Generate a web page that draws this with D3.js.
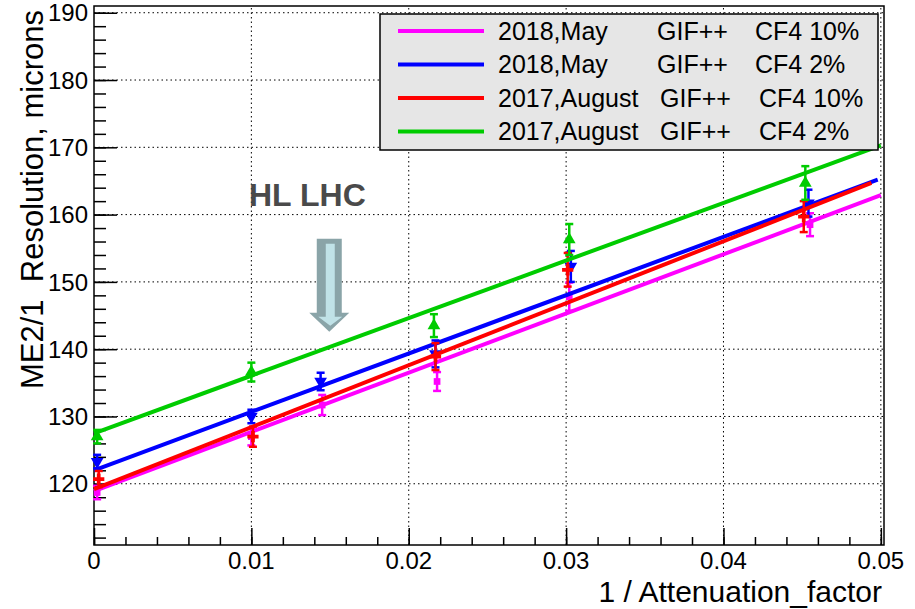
<!DOCTYPE html>
<html>

<head>
  <meta charset="UTF-8">
  <title>ME2/1 Resolution</title>
  <script src="https://d3js.org/d3.v7.min.js"></script>
  <style>
    body {
      margin: 0;
      background: #fff;
    }

    svg text {
      font-family: "Liberation Sans", Arial, sans-serif;
      fill: #000;
    }
  </style>
</head>

<body>
  <svg></svg>

  <script>
    // series
    let seriesNames = ["2018,May", "2018,May", "2017,August", "2017,August"];
    let seriesFacility = ["GIF++", "GIF++", "GIF++", "GIF++"];
    let seriesGas = ["CF4 10%", "CF4 2%", "CF4 10%", "CF4 2%"];
    let seriesColors = ["#ff00ff", "#0000ff", "#ff0000", "#00cc00"];
    let seriesMarkers = ["square", "triangleDown", "cross", "triangleUp"];

    let magentaX = [0.0002, 0.0100, 0.0145, 0.0218, 0.0302, 0.0455];
    let magentaY = [118.7, 127.0, 131.7, 135.2, 147.8, 158.5];
    let magentaErr = [1.0, 1.3, 1.5, 1.4, 2.1, 1.7];

    let blueX = [0.0002, 0.0100, 0.0144, 0.0217, 0.0303, 0.0454];
    let blueY = [123.3, 130.0, 135.2, 139.3, 152.3, 161.7];
    let blueErr = [1.0, 1.0, 1.3, 2.0, 2.3, 2.0];

    let redX = [0.0003, 0.0101, 0.0217, 0.0301, 0.0451];
    let redY = [120.7, 127.0, 138.9, 151.8, 159.7];
    let redErr = [1.2, 1.5, 2.0, 2.5, 2.3];

    let greenX = [0.0002, 0.0100, 0.0216, 0.0302, 0.0452];
    let greenY = [127.0, 136.6, 143.5, 156.3, 164.7];
    let greenErr = [1.0, 1.4, 1.7, 2.3, 2.5];

    // linear fit lines: start / end x and value there
    let fitX0 = [0, 0, 0, 0];
    let fitX1 = [0.0500, 0.0498, 0.0494, 0.0500];
    let fitY0 = [118.9, 122.0, 119.2, 127.5];
    let fitY1 = [162.9, 165.2, 164.7, 170.3];

    let xTicks = [0, 0.01, 0.02, 0.03, 0.04, 0.05];
    let xTickLabels = ["0", "0.01", "0.02", "0.03", "0.04", "0.05"];
    let yTicks = [120, 130, 140, 150, 160, 170, 180, 190];

    let width = 915,
      height = 609;
    let margin = { left: 94, right: 31, top: 6, bottom: 64 };

    let svg = d3.select("svg")
      .attr("width", width)
      .attr("height", height);

    let x = d3.scaleLinear()
      .domain([0, 0.0502])
      .range([margin.left, width - margin.right]);

    let y = d3.scaleLinear()
      .domain([110.9, 191.0])
      .range([height - margin.bottom, margin.top]);

    // grid
    let grid = svg.append("g").attr("id", "grid");
    grid.selectAll("line.gx")
      .data(xTicks.filter(d => d > 0))
      .enter()
      .append("line")
      .attr("x1", d => x(d)).attr("x2", d => x(d))
      .attr("y1", y.range()[0]).attr("y2", y.range()[1])
      .attr("stroke", "#000")
      .attr("stroke-width", 1)
      .attr("stroke-dasharray", "1.5,3");
    grid.selectAll("line.gy")
      .data(yTicks)
      .enter()
      .append("line")
      .attr("y1", d => y(d)).attr("y2", d => y(d))
      .attr("x1", x.range()[0]).attr("x2", x.range()[1])
      .attr("stroke", "#000")
      .attr("stroke-width", 1)
      .attr("stroke-dasharray", "1.5,3");

    // axes, ticks pointing inside
    let xAxisMajor = d3.axisTop(x).tickValues(xTicks).tickSize(17).tickFormat("");
    let xAxisMinor = d3.axisTop(x).tickValues(d3.range(0, 0.0501, 0.002)).tickSize(8).tickFormat("");
    let yAxisMajor = d3.axisRight(y).tickValues(yTicks).tickSize(23).tickFormat("");
    let yAxisMinor = d3.axisRight(y).tickValues(d3.range(112, 191, 2)).tickSize(12).tickFormat("");

    [xAxisMajor, xAxisMinor].forEach(a => {
      svg.append("g")
        .attr("transform", "translate(0," + y.range()[0] + ")")
        .call(a)
        .call(g => g.select(".domain").remove())
        .selectAll("line").attr("stroke", "#000").attr("stroke-width", 1.5);
    });
    [yAxisMajor, yAxisMinor].forEach(a => {
      svg.append("g")
        .attr("transform", "translate(" + x.range()[0] + ",0)")
        .call(a)
        .call(g => g.select(".domain").remove())
        .selectAll("line").attr("stroke", "#000").attr("stroke-width", 1.5);
    });

    // frame
    svg.append("rect")
      .attr("x", x.range()[0])
      .attr("y", y.range()[1])
      .attr("width", x.range()[1] - x.range()[0])
      .attr("height", y.range()[0] - y.range()[1])
      .attr("fill", "none")
      .attr("stroke", "#000")
      .attr("stroke-width", 1.5);

    // tick labels
    svg.selectAll("text.xl")
      .data(xTicks)
      .enter()
      .append("text")
      .attr("x", d => x(d))
      .attr("y", 569)
      .attr("text-anchor", "middle")
      .style("font-size", "24px")
      .text((d, i) => xTickLabels[i]);

    svg.selectAll("text.yl")
      .data(yTicks)
      .enter()
      .append("text")
      .attr("x", 88)
      .attr("y", d => y(d))
      .attr("dy", "0.36em")
      .attr("text-anchor", "end")
      .style("font-size", "24px")
      .text(d => d);

    // axis titles
    svg.append("text")
      .attr("x", 882)
      .attr("y", 602)
      .attr("text-anchor", "end")
      .style("font-size", "30px")
      .text("1 / Attenuation_factor");

    svg.append("text")
      .attr("transform", "translate(43,10) rotate(-90)")
      .attr("text-anchor", "end")
      .style("font-size", "31px")
      .style("white-space", "pre")
      .text("ME2/1  Resolution, microns");

    // HL LHC annotation
    let arrowX = 0.01495, arrowTop = 156.4, arrowHead = 145.4, arrowTip = 142.6;
    svg.append("text")
      .attr("x", 249)
      .attr("y", 206)
      .style("font-size", "32px")
      .style("font-weight", "bold")
      .style("fill", "#4a4a4a")
      .text("HL LHC");

    function arrowPath(cx, top, head, tip, sw, hw) {
      return "M" + (cx - sw) + "," + top +
        "L" + (cx + sw) + "," + top +
        "L" + (cx + sw) + "," + head +
        "L" + (cx + hw) + "," + head +
        "L" + cx + "," + tip +
        "L" + (cx - hw) + "," + head +
        "L" + (cx - sw) + "," + head + "Z";
    }
    let ax = x(arrowX);
    svg.append("path")
      .attr("d", arrowPath(ax, y(arrowTop), y(arrowHead), y(arrowTip), 12.5, 20))
      .attr("fill", "#8aa4a8");
    svg.append("path")
      .attr("d", arrowPath(ax + 1, y(arrowTop) + 5, y(arrowHead) + 4, y(arrowTip) - 6, 4.5, 12))
      .attr("fill", "#c0e2e7");

    // data series
    let seriesX = [magentaX, blueX, redX, greenX];
    let seriesY = [magentaY, blueY, redY, greenY];
    let seriesErr = [magentaErr, blueErr, redErr, greenErr];

    let symbolFor = {
      square: d3.symbolSquare,
      triangleDown: d3.symbolTriangle,
      triangleUp: d3.symbolTriangle,
      cross: d3.symbolCross
    };

    seriesColors.forEach((color, s) => {
      let pts = seriesX[s].map((v, i) => ({ x: v, y: seriesY[s][i], e: seriesErr[s][i] }));
      let g = svg.append("g").attr("class", "series");

      // fit line
      g.append("line")
        .attr("x1", x(fitX0[s])).attr("y1", y(fitY0[s]))
        .attr("x2", x(fitX1[s])).attr("y2", y(fitY1[s]))
        .attr("stroke", color)
        .attr("stroke-width", 4);

      // error bars
      g.selectAll("line.err")
        .data(pts)
        .enter()
        .append("line")
        .attr("x1", d => x(d.x)).attr("x2", d => x(d.x))
        .attr("y1", d => y(d.y - d.e)).attr("y2", d => y(d.y + d.e))
        .attr("stroke", color)
        .attr("stroke-width", 2.5);
      [-1, 1].forEach(sg => {
        g.selectAll("line.cap" + sg)
          .data(pts)
          .enter()
          .append("line")
          .attr("x1", d => x(d.x) - 4).attr("x2", d => x(d.x) + 4)
          .attr("y1", d => y(d.y + sg * d.e)).attr("y2", d => y(d.y + sg * d.e))
          .attr("stroke", color)
          .attr("stroke-width", 2.5);
      });

      // markers
      let sym = d3.symbol().type(symbolFor[seriesMarkers[s]]).size(seriesMarkers[s] == "square" ? 45 : 70);
      g.selectAll("path.mk")
        .data(pts)
        .enter()
        .append("path")
        .attr("d", sym)
        .attr("transform", d => "translate(" + x(d.x) + "," + y(d.y) + ")" +
          (seriesMarkers[s] == "triangleDown" ? " rotate(180)" : ""))
        .attr("fill", color);
    });

    // legend
    let legend = svg.append("g").attr("id", "legend");
    legend.append("rect")
      .attr("x", 380)
      .attr("y", 14)
      .attr("width", 498)
      .attr("height", 136)
      .attr("fill", "#e6e6e6")
      .attr("stroke", "#000")
      .attr("stroke-width", 1.5);

    let rows = legend.selectAll("g.row")
      .data(seriesNames)
      .enter()
      .append("g")
      .attr("transform", (d, i) => "translate(0," + (31 + i * 33.5) + ")");
    rows.append("line")
      .attr("x1", 398).attr("x2", 484)
      .attr("stroke", (d, i) => seriesColors[i])
      .attr("stroke-width", 4);
    rows.append("text")
      .attr("x", 498).attr("y", 8.5)
      .style("font-size", "25px")
      .text(d => d);
    rows.append("text")
      .attr("x", (d, i) => i < 2 ? 657 : 660).attr("y", 8.5)
      .style("font-size", "25px")
      .text((d, i) => seriesFacility[i]);
    rows.append("text")
      .attr("x", (d, i) => i < 2 ? 755 : 759).attr("y", 8.5)
      .style("font-size", "25px")
      .text((d, i) => seriesGas[i]);
  </script>

</body>

</html>
